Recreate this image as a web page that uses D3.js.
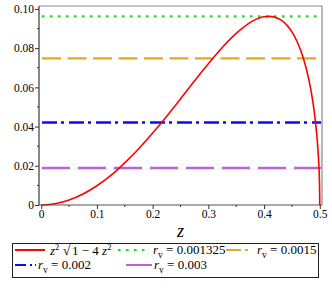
<!DOCTYPE html>
<html>
<head>
<meta charset="utf-8">
<script src="https://cdn.jsdelivr.net/npm/d3@7"></script>
<style>
  body { margin: 0; background: #fff; }
</style>
</head>
<body>
<svg id="chart" width="332" height="291" font-family="Liberation Serif"></svg>
<script>
// curve z^2 sqrt(1-4z^2)
const curveZ = [0, 0.025, 0.05, 0.075, 0.1, 0.125, 0.15, 0.175, 0.2, 0.225, 0.25, 0.275, 0.3, 0.325,
                0.35, 0.36, 0.38, 0.39, 0.4, 0.41, 0.42, 0.43, 0.44, 0.45, 0.46, 0.47, 0.48, 0.485,
                0.49, 0.495, 0.498, 0.4995, 0.5];
const curveVal = [0, 0.0006, 0.0025, 0.0056, 0.0098, 0.0151, 0.0215, 0.0287, 0.0367, 0.0452, 0.0541,
                  0.0632, 0.072, 0.0803, 0.0875, 0.0899, 0.0939, 0.0952, 0.096, 0.0962, 0.0957,
                  0.0944, 0.092, 0.0883, 0.0829, 0.0754, 0.0645, 0.0572, 0.0478, 0.0346, 0.0222,
                  0.0112, 0];

// horizontal reference levels
const levelNames = ["0.001325", "0.0015", "0.002", "0.003"];
const levelValues = [0.0962, 0.0748, 0.0421, 0.0189];
const levelColors = ["#22d422", "#e4a825", "#0a0aff", "#bf5fdc"];
const levelDashes = ["2.5,5.5", "19,6.5", "15,4,3,5", "28,8"];

const xTicks = [0, 0.1, 0.2, 0.3, 0.4, 0.5];
const xMinor = [0.05, 0.15, 0.25, 0.35, 0.45];
const yTicks = [0, 0.02, 0.04, 0.06, 0.08, 0.10];
const yMinor = [0.01, 0.03, 0.05, 0.07, 0.09];

const FONT = "Liberation Serif";
const svg = d3.select("#chart");
const pLeft = 39, pRight = 322, pTop = 6, pBottom = 205;

const x = d3.scaleLinear().domain([-0.004, 0.504]).range([pLeft, pRight]);
const y = d3.scaleLinear().domain([0, 0.1015]).range([pBottom, pTop]);

// frame
svg.append("path")
    .attr("d", `M${pLeft},${pTop}H${pRight}V${pBottom}`)
    .attr("fill", "none")
    .attr("stroke", "#8a8a8a")
    .attr("stroke-width", 1.2);

// reference lines
levelValues.forEach((v, i) => {
    svg.append("line")
        .attr("x1", pLeft + 3).attr("x2", pRight - 1)
        .attr("y1", y(v)).attr("y2", y(v))
        .attr("stroke", levelColors[i])
        .attr("stroke-width", 2.4)
        .attr("stroke-dasharray", levelDashes[i]);
});

// curve
svg.append("path")
    .attr("d", d3.line()
        .x((d, i) => x(curveZ[i]))
        .y(d => y(d))
        .curve(d3.curveMonotoneX)(curveVal))
    .attr("fill", "none")
    .attr("stroke", "#ff0000")
    .attr("stroke-width", 1.6);

// y axis
const yAxis = svg.append("g").attr("transform", `translate(${pLeft},0)`)
    .call(d3.axisLeft(y).tickValues(yTicks).tickSize(4)
        .tickFormat(d => d === 0 ? "0" : d3.format(".2f")(d)));
yAxis.attr("font-family", FONT).attr("font-size", 11.5);
yAxis.select(".domain").attr("stroke", "#555").attr("stroke-width", 1.4)
    .attr("d", `M0,${pTop}V${pBottom}`);
yAxis.selectAll(".tick line").attr("stroke", "#333");
yAxis.selectAll(".tick text").attr("x", -5);
yAxis.selectAll(".minor").data(yMinor).join("line")
    .attr("x1", 0).attr("x2", -2).attr("y1", d => y(d)).attr("y2", d => y(d))
    .attr("stroke", "#333");

// x axis
const xAxis = svg.append("g").attr("transform", `translate(0,${pBottom})`)
    .call(d3.axisBottom(x).tickValues(xTicks).tickSize(4)
        .tickFormat(d => d === 0 ? "0" : d3.format(".1f")(d)));
xAxis.attr("font-family", FONT).attr("font-size", 11.5);
xAxis.select(".domain").attr("stroke", "#555").attr("stroke-width", 1.2)
    .attr("d", `M${pLeft},0H${pRight}`);
xAxis.selectAll(".tick line").attr("stroke", "#333");
xAxis.selectAll(".tick text").attr("y", 5);
xAxis.selectAll(".minor").data(xMinor).join("line")
    .attr("y1", 0).attr("y2", 2).attr("x1", d => x(d)).attr("x2", d => x(d))
    .attr("stroke", "#333");

// axis title
svg.append("text")
    .attr("x", (pLeft + pRight) / 2).attr("y", 237)
    .attr("text-anchor", "middle")
    .attr("font-family", FONT)
    .attr("font-size", 18).attr("font-style", "italic")
    .text("z");

// legend
svg.append("rect")
    .attr("x", 12.5).attr("y", 243.5).attr("width", 306).attr("height", 34)
    .attr("fill", "none").attr("stroke", "#222").attr("stroke-width", 1);

const lg = svg.append("g").attr("font-family", FONT).attr("font-size", 13);

function sample(x1, x2, yy, color, dash) {
    lg.append("line").attr("x1", x1).attr("x2", x2).attr("y1", yy).attr("y2", yy)
        .attr("stroke", color).attr("stroke-width", 2)
        .attr("stroke-dasharray", dash);
}

function rLabel(xx, yy, val) {
    const t = lg.append("text").attr("x", xx).attr("y", yy);
    t.append("tspan").attr("font-style", "italic").text("r");
    t.append("tspan").attr("font-size", 9.5).attr("dy", 3.5).text("v");
    t.append("tspan").attr("dy", -3.5).text(" = " + val);
}

const row1 = 254, row2 = 269;

// red curve entry
sample(15, 45, row1 - 4, "#ff0000", null);
const f = lg.append("text").attr("x", 50).attr("y", row1 + 1);
f.append("tspan").attr("font-style", "italic").text("z");
f.append("tspan").attr("font-size", 8.5).attr("dy", -5).text("2");
f.append("tspan").attr("dy", 5).attr("font-size", 14).text(" \u221A");
const rad = lg.append("text").attr("x", 72).attr("y", row1 + 1);
rad.append("tspan").text("1 \u2212 4 ");
rad.append("tspan").attr("font-style", "italic").text("z");
rad.append("tspan").attr("font-size", 8.5).attr("dy", -5).text("2");
const rb = rad.node().getBBox();
lg.append("line").attr("x1", 70).attr("x2", rb.x + rb.width + 1)
    .attr("y1", row1 - 10.5).attr("y2", row1 - 10.5)
    .attr("stroke", "#000").attr("stroke-width", 0.8);

sample(118, 148, row1 - 4, levelColors[0], "2.5,5.5");
rLabel(153, row1, levelNames[0]);
sample(226, 252, row1 - 4, levelColors[1], "15,4,3,20");
rLabel(257, row1, levelNames[1]);
sample(15, 36, row2 - 4, levelColors[2], "11,4,2,3,2,10");
rLabel(38, row2, levelNames[2]);
sample(126, 152, row2 - 4, levelColors[3], null);
rLabel(154, row2, levelNames[3]);
</script>
</body>
</html>
